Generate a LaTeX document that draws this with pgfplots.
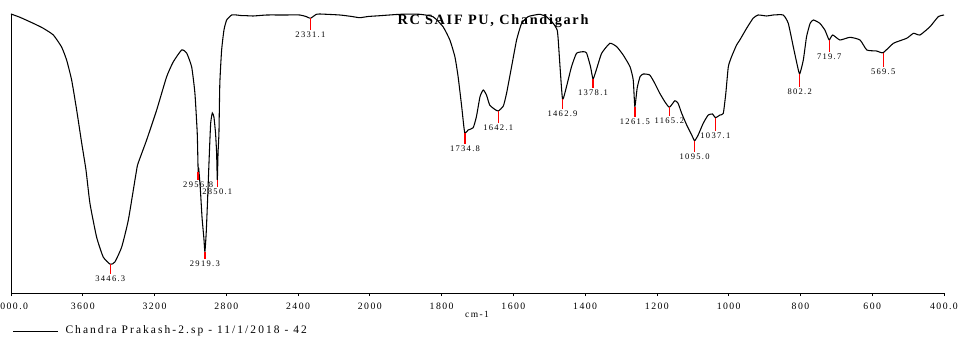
\documentclass[border=0pt]{standalone}
\usepackage{fontspec}
\setmainfont{Liberation Serif}
\newfontfamily\tickfont[LetterSpace=15]{Liberation Serif}
\newfontfamily\titlefont[LetterSpace=12]{Liberation Serif}
\newfontfamily\legfont[LetterSpace=18]{Liberation Serif}
\usepackage{pgfplots}
\usepackage{pgfplotstable}
\pgfplotsset{compat=1.18}
\definecolor{peakred}{RGB}{255,0,0}
% peak table: wavenumber, curve height, marker length, label
\pgfplotstableread{
x y e label
3446.3 28.7 10 3446.3
2956.8 121.3 8.3 2956.8
2919.3 41.3 7.6 2919.3
2850.1 113 7.3 2850.1
2331.1 274.7 11.7 2331.1
1734.8 159.7 10.7 1734.8
1642.1 182 11.7 1642.1
1462.9 193.7 10 1462.9
1378.1 214 9.3 1378.1
1261.5 186.3 10 1261.5
1165.2 185.7 8.7 1165.2
1095.0 152.3 11 1095.0
1037.1 175.3 13 1037.1
802.2 219 13.3 802.2
719.7 253 11.7 719.7
569.5 240.3 14 569.5
}\peaks
\begin{document}
\begin{tikzpicture}
\begin{axis}[
  at={(0,0)}, anchor=south west,
  scale only axis, width=699.75pt, height=209.25pt,
  xmin=400, xmax=3000, ymin=0, ymax=279,
  x dir=reverse,
  x filter/.expression={x>2000 ? 2000+(x-2000)/2 : x},
  axis x line*=bottom, axis y line*=left,
  axis line style={line width=0.7pt, -},
  ytick=\empty,
  xtick={3000,2800,2600,2400,2200,2000,1800,1600,1400,1200,1000,800,600,400},
  xticklabels={4000.0,3600,3200,2800,2400,2000,1800,1600,1400,1200,1000,800,600,400.0},
  tick align=outside, major tick length=2.25pt,
  tick style={line width=0.6pt, black},
  xticklabel style={font=\tickfont\fontsize{7.3}{8}\selectfont, inner sep=0pt, yshift=-5pt},
  /pgf/number format/assume math mode=true,
  title={RC SAIF PU, Chandigarh},
  title style={at={(axis description cs:0.5166,0.9462)}, anchor=center, inner sep=0pt,
    font=\titlefont\bfseries\fontsize{10.7}{12}\selectfont},
  xlabel={cm-1},
  xlabel style={at={(axis description cs:0.4995,0)}, anchor=center, yshift=-15.75pt,
    font=\tickfont\fontsize{7.1}{8}\selectfont},
  legend style={at={(axis description cs:0.0016,-0.1362)}, anchor=west, draw=none, fill=none,
    inner sep=0pt, nodes={inner sep=0pt}, font=\legfont\fontsize{8.6}{9}\selectfont,
    /tikz/every odd column/.append style={column sep=5.25pt}},
  legend image code/.code={\draw[black, line width=0.6pt] (0pt,0pt) -- (33.75pt,0pt);},
  clip=false,
]
\addplot[black, line width=0.8pt, smooth, tension=0.3] coordinates {
(4000,279) (3950,275.7) (3876,269.7) (3820,264.7) (3764,258) (3718,246) (3690,233)
(3662,213) (3634,183) (3606,150) (3582,123) (3560,89.7) (3523,56) (3486,36)
(3446.3,28.7) (3421,31) (3383,46) (3346,73) (3300,123) (3291,130) (3244,153)
(3188,183) (3133,216) (3096,231) (3049,243) (3021,240) (2993,226) (2975,200)
(2962,160) (2958,130) (2956.8,122) (2954,125) (2945,105) (2935,75) (2925,55)
(2919.3,41.3) (2912,60) (2905,90) (2898,123) (2893,146) (2887,170) (2878,180)
(2869,176) (2860,160) (2854,140) (2850.1,113) (2846,140) (2841,160) (2836,210)
(2826,243) (2813,263) (2798,273) (2770,278) (2743,278) (2720,277.5) (2687,277.3)
(2650,277) (2575,278) (2483,278) (2390,278) (2353,276.3) (2331.1,274.7) (2300,278.5)
(2279,279) (2167,278) (2100,276.5) (2056,275.3) (2010,276.5) (1972,277.3) (1916,278.7)
(1861,278.7) (1824,276.3) (1796,266.3) (1777,253) (1763,236.3) (1754,216.3)
(1744,186.3) (1738,166.3) (1734.8,159.7) (1726,163) (1712,165.3) (1703,176.3)
(1693,196.3) (1684,203) (1675,198) (1666,188) (1652,183.7) (1642.1,182) (1628,187)
(1619,199.7) (1605,226.3) (1591,253) (1577,269.7) (1559,276.3) (1540,278) (1526,278.7)
(1508,276.3) (1489,269.7) (1478,263) (1475,253) (1470,226.3) (1462.9,193.7)
(1452,206.3) (1438,226.3) (1424,239.7) (1405,241.3) (1396,240) (1385,226.3)
(1378.1,214) (1369,223) (1354,239.7) (1331,249.7) (1312,246.3) (1294,238)
(1275,226.3) (1266,213) (1261.5,186.3) (1255,205) (1247,216.3) (1238,219) (1220,218)
(1206,209.7) (1192,199.7) (1178,191.3) (1165.2,185.7) (1150,192.3) (1141,189.7)
(1131,179.7) (1117,168) (1103,158) (1095,152.3) (1085,158) (1071,169.7) (1057,178)
(1045,179) (1037.1,175.3) (1024,178) (1015,179.7) (1008,199.7) (1001,226.3)
(992,236.3) (978,248) (969,253) (950,264.7) (932,274.7) (918,278) (894,277) (876,278)
(848,278) (834,269.7) (820,246.3) (809,228) (802.2,219) (792,233) (783,256.3)
(773,269.7) (764,273) (746,269.7) (732,263) (724,256) (719.7,253) (710,258)
(690,253) (662,255.7) (634,253) (615,243) (588,242) (569.5,240.3) (541,249.7)
(504,254.7) (485,259.7) (467,258) (439,266.3) (416,276.3) (400,278)
};
\addlegendentry{Chandra Prakash-2.sp - 11/1/2018 - 42}
% peak markers (red lines hanging below each picked peak)
\addplot[draw=none, mark=none, forget plot,
  error bars/.cd, y dir=minus, y explicit, error mark=none,
  error bar style={peakred, line width=1pt}]
  table[x=x, y=y, y error=e] {\peaks};
% peak labels under the markers
\addplot[draw=none, mark=none, forget plot, nodes near coords, point meta=explicit symbolic,
  nodes near coords style={anchor=north, inner sep=0pt, text=black,
    font=\tickfont\fontsize{6.4}{7}\selectfont}]
  table[x=x, y expr=\thisrow{y}-\thisrow{e}-1.5, meta=label] {\peaks};
\end{axis}
\pgfresetboundingbox
\path (-8.25pt,-32.25pt) rectangle (711.75pt,219.75pt);
\end{tikzpicture}
\end{document}
